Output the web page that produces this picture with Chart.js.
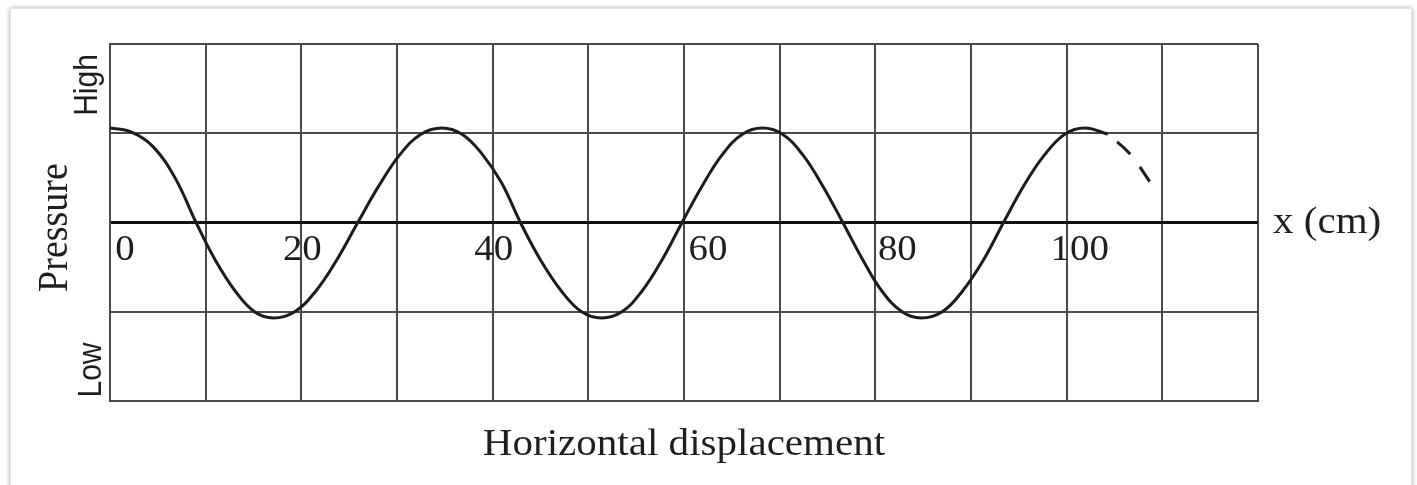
<!DOCTYPE html>
<html>
<head>
<meta charset="utf-8">
<title>Pressure wave</title>
<script src="https://cdn.jsdelivr.net/npm/chart.js@4.4.1/dist/chart.umd.min.js"></script>
<style>
  html, body { margin: 0; padding: 0; background: #fff; overflow: hidden; }
  #frame {
    position: absolute; left: 10px; top: 8px; width: 1400px; height: 520px;
    border: 1px solid #e2e2e2; background: #fff;
    box-shadow: 0 0 5px rgba(0, 0, 0, 0.35);
  }
  #myChart { position: absolute; left: 0; top: 0; }
</style>
</head>
<body>
<div id="frame"></div>
<canvas id="myChart" width="1417" height="485"></canvas>
<script>
// values (x in cm, pressure in grid units)
const waveX = [0, 2.3, 4.5, 6.8, 9.0, 11.0, 13.1, 15.1, 17.1, 19.3, 21.5, 23.7, 25.9,
  28.1, 30.3, 32.5, 34.7, 36.8, 38.8, 40.9, 42.9, 45.0, 47.2, 49.3, 51.4,
  53.5, 55.6, 57.7, 59.8, 61.9, 64.0, 66.1, 68.2, 70.3, 72.4, 74.5, 76.6,
  78.7, 80.7, 82.8, 84.8, 87.0, 89.1, 91.3, 93.4, 95.5, 97.7, 99.8, 101.9, 104.3];
const waveY = [1.06, 1.01, 0.85, 0.50, 0, -0.42, -0.77, -1.0, -1.07, -1.0, -0.77, -0.42, 0,
  0.41, 0.76, 0.99, 1.06, 0.99, 0.78, 0.45, 0, -0.42, -0.77, -1.0, -1.07,
  -1.0, -0.77, -0.42, 0, 0.41, 0.76, 0.99, 1.06, 0.99, 0.76, 0.41, 0,
  -0.42, -0.77, -1.0, -1.07, -1.0, -0.77, -0.42, 0, 0.41, 0.76, 0.99, 1.06, 0.99];
// dashed continuation
const tailX = [104.3, 106.6, 108.8];
const tailY = [0.99, 0.77, 0.44];

const xTickValues = [0, 20, 40, 60, 80, 100];
const xTickLabels = ['0', '20', '40', '60', '80', '100'];

const serif = '"Liberation Serif", "Times New Roman", serif';
const sans = '"Liberation Sans", Arial, sans-serif';

function toPoints(xs, ys) {
  return xs.map((x, i) => ({ x: x, y: ys[i] }));
}

function drawText(ctx, text, x, y, font, align, baseline, rotate, sx) {
  ctx.save();
  ctx.translate(x, y);
  ctx.scale(sx, 1);
  if (rotate) ctx.rotate(-Math.PI / 2);
  ctx.font = font;
  ctx.textAlign = align;
  ctx.textBaseline = baseline;
  ctx.fillStyle = '#1e1e1e';
  ctx.fillText(text, 0, 0);
  ctx.restore();
}

// labels are hand placed in the original, nudge them the same way
const tickNudge = [15, 1, 1, 24, 22, 13];

const labelsPlugin = {
  id: 'labels',
  afterDraw(chart) {
    const ctx = chart.ctx;
    const xs = chart.scales.x;
    const ys = chart.scales.y;
    const area = chart.chartArea;
    const zeroY = ys.getPixelForValue(0);

    xTickValues.forEach((v, i) => {
      drawText(ctx, xTickLabels[i], xs.getPixelForValue(v) + tickNudge[i], zeroY + 37,
        '36px ' + serif, 'center', 'alphabetic', false, 1.08);
    });

    drawText(ctx, 'x (cm)', area.right + 15, zeroY + 10, '38px ' + serif, 'left', 'alphabetic', false, 1.08);
    drawText(ctx, 'Horizontal displacement', (area.left + area.right) / 2, area.bottom + 54,
      '38px ' + serif, 'center', 'alphabetic', false, 1.08);

    drawText(ctx, 'Pressure', area.left - 43, zeroY + 5, '38px ' + serif, 'center', 'alphabetic', true, 1.12);
    drawText(ctx, 'High', area.left - 13, area.top + 41, '30px ' + sans, 'center', 'alphabetic', true, 1.08);
    drawText(ctx, 'Low', area.left - 9, area.bottom - 31, '30px ' + sans, 'center', 'alphabetic', true, 1.08);
  }
};

const ctx = document.getElementById('myChart');

const myChart = new Chart(ctx, {
  type: 'line',
  data: {
    datasets: [{
      data: toPoints(waveX, waveY),
      borderColor: '#1c1c1c',
      borderWidth: 3,
      pointRadius: 0,
      tension: 0.4,
      fill: false
    }, {
      data: toPoints(tailX, tailY),
      borderColor: '#1c1c1c',
      borderWidth: 3,
      borderDash: [18, 16],
      borderDashOffset: 22,
      pointRadius: 0,
      tension: 0.4,
      fill: false
    }]
  },
  options: {
    responsive: false,
    animation: false,
    events: [],
    layout: {
      padding: { left: 110, top: 44, right: 159, bottom: 84 }
    },
    plugins: {
      legend: { display: false },
      tooltip: { enabled: false }
    },
    scales: {
      x: {
        type: 'linear',
        min: 0,
        max: 120,
        ticks: { stepSize: 10, display: false },
        grid: { color: '#4a4a4a', lineWidth: 2, drawTicks: false },
        border: { display: true, color: '#4a4a4a', width: 2 }
      },
      y: {
        min: -2,
        max: 2,
        ticks: { stepSize: 1, display: false },
        grid: {
          color: c => c.tick && c.tick.value === 0 ? '#111' : '#4a4a4a',
          lineWidth: c => c.tick && c.tick.value === 0 ? 3 : 2,
          drawTicks: false
        },
        border: { display: true, color: '#4a4a4a', width: 2 }
      }
    }
  },
  plugins: [labelsPlugin]
});
</script>
</body>
</html>
